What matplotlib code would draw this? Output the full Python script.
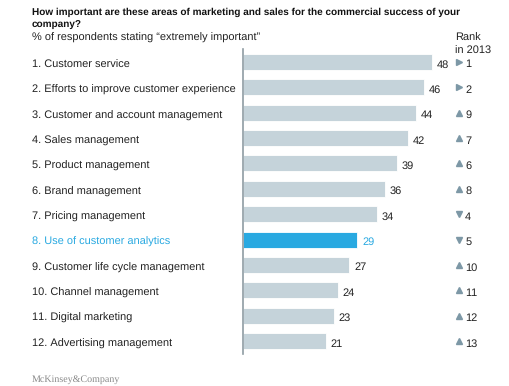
import matplotlib.pyplot as plt
from matplotlib.transforms import blended_transform_factory

plt.rcParams['font.family'] = ['Liberation Sans', 'DejaVu Sans']
plt.rcParams['text.hinting'] = 'no_hinting'
plt.rcParams['text.hinting_factor'] = 1

# Dados
areas = ["1. Customer service", "2. Efforts to improve customer experience",
         "3. Customer and account management", "4. Sales management",
         "5. Product management", "6. Brand management", "7. Pricing management",
         "8. Use of customer analytics", "9. Customer life cycle management",
         "10. Channel management", "11. Digital marketing", "12. Advertising management"]
valores = [48, 46, 44, 42, 39, 36, 34, 29, 27, 24, 23, 21]
rank_2013 = [1, 2, 9, 7, 6, 8, 4, 5, 10, 11, 12, 13]
tendencia = [">", ">", "^", "^", "^", "^", "v", "v", "^", "^", "^", "^"]
destaque = 7

cinza = "#c5d3da"
azul = "#29a9e1"
seta = "#7d98a6"
texto = "#222222"

W, H = 510, 386
fig = plt.figure(figsize=(W / 100, H / 100), dpi=100)

# eixo das barras: 1 unidade ~ 3.94 px
x0, escala = 243, 3.94
topo, base = 49.3, 353.7
ax = fig.add_axes([x0 / W, 1 - base / H, 60 * escala / W, (base - topo) / H])
ax.set_xlim(0, 60)
ax.set_ylim(len(areas) - 0.5, -0.5)

cores = [azul if i == destaque else cinza for i in range(len(areas))]
ax.barh(range(len(areas)), valores, height=0.63, color=cores,
        edgecolor="white", linewidth=0.6)

for s in ["top", "right", "bottom"]:
    ax.spines[s].set_visible(False)
ax.spines["left"].set_color("#8f9ca3")
ax.spines["left"].set_linewidth(1.2)
ax.set_xticks([])
ax.set_yticks([])

fs = 7.8
dy = 0.06  # ajuste fino do texto em relação ao centro da barra
trans = blended_transform_factory(fig.transFigure, ax.transData)
for i, (nome, v, r, t) in enumerate(zip(areas, valores, rank_2013, tendencia)):
    cor = azul if i == destaque else texto
    ax.text(32 / W, i + dy, nome, transform=trans, fontsize=fs, color=cor,
            va="center_baseline", ha="left")
    ax.text(v + 1.2, i + dy, str(v), fontsize=fs, color=cor, va="center_baseline",
            ha="left", clip_on=False)
    ax.plot([54.7], [i], marker=t, color=seta, markersize=4.2, clip_on=False,
            linestyle="none")
    ax.text(56.4, i + dy, str(r), fontsize=fs, color=texto, va="center_baseline",
            ha="left", clip_on=False)

titulo = ["How important are these areas of marketing and sales for the commercial success of your",
          "company?"]
for k, linha in enumerate(titulo):
    fig.text(32 / W, 1 - (11 + 13 * k) / H, linha, fontsize=7.5,
             fontweight="bold", color="#111111",
             va="center_baseline", ha="left")
fig.text(32 / W, 1 - 37 / H, "% of respondents stating \u201cextremely important\u201d",
         fontsize=7.6, color=texto, va="center_baseline", ha="left")
fig.text(455 / W, 1 - 37 / H, "Rank", fontsize=7.6, color=texto,
         va="center_baseline", ha="left")
fig.text(455 / W, 1 - 50 / H, "in 2013", fontsize=7.6, color=texto,
         va="center_baseline", ha="left")
fig.text(32 / W, 1 - 378 / H, "McKinsey&Company", fontsize=7.2,
         family="Liberation Serif", color="#8a8a8a", va="center_baseline", ha="left")

fig.savefig("out.png", dpi=100)
